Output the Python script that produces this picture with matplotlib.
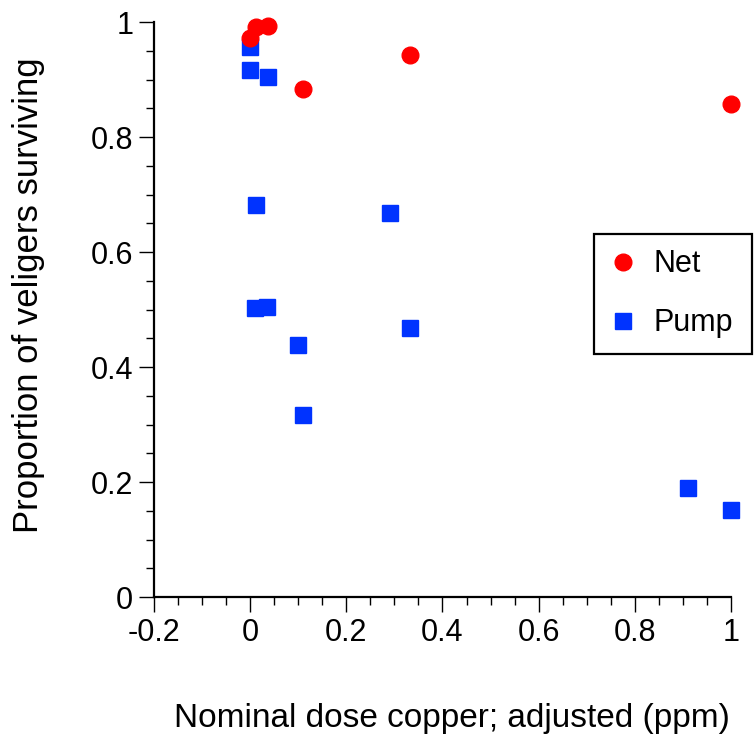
import matplotlib.pyplot as plt
from matplotlib.ticker import MultipleLocator

plt.rcParams['font.family'] = ['Liberation Sans', 'DejaVu Sans']

# Net samples
net_dose = [0.0, 0.012, 0.037, 0.11, 0.333, 1.0]
net_surv = [0.973, 0.992, 0.993, 0.884, 0.943, 0.857]

# Pump samples
pump_dose = [0.0, 0.0, 0.037, 0.0125, 0.291, 0.010, 0.035, 0.333, 0.099, 0.11, 0.91, 1.0]
pump_surv = [0.957, 0.917, 0.904, 0.682, 0.668, 0.502, 0.504, 0.467, 0.438, 0.317, 0.190, 0.151]

x_ticks = [-0.2, 0, 0.2, 0.4, 0.6, 0.8, 1]
x_tick_labels = ["-0.2", "0", "0.2", "0.4", "0.6", "0.8", "1"]
y_ticks = [0, 0.2, 0.4, 0.6, 0.8, 1]
y_tick_labels = ["0", "0.2", "0.4", "0.6", "0.8", "1"]

fig = plt.figure(figsize=(7.56, 7.46), dpi=100)
ax = fig.add_axes([0.2037, 0.1997, 0.7632, 0.7708])

pump = ax.plot(pump_dose, pump_surv, linestyle="none", marker="s", markersize=11,
               color="#0033ff", label="Pump", clip_on=False, zorder=3)[0]
net = ax.plot(net_dose, net_surv, linestyle="none", marker="o", markersize=12,
              color="#ff0000", label="Net", clip_on=False, zorder=4)[0]

ax.set_xlim(-0.2, 1)
ax.set_ylim(0, 1)
ax.set_xticks(x_ticks, x_tick_labels)
ax.set_yticks(y_ticks, y_tick_labels)
ax.xaxis.set_minor_locator(MultipleLocator(0.05))
ax.yaxis.set_minor_locator(MultipleLocator(0.05))
ax.tick_params(which="major", length=11, width=1, labelsize=22, pad=4, direction="out")
ax.tick_params(which="minor", length=5.5, width=1, direction="out")

for side in ["top", "right"]:
    ax.spines[side].set_visible(False)
for side in ["left", "bottom"]:
    ax.spines[side].set_linewidth(1.6)

ax.set_xlabel("Nominal dose copper; adjusted (ppm)", fontsize=24)
ax.set_ylabel("Proportion of veligers surviving", fontsize=25)
ax.xaxis.set_label_coords(0.516, -0.212)
ax.yaxis.set_label_coords(-0.218, 0.525)
ax.xaxis.label.set_va("center")
ax.yaxis.label.set_va("center")

# legend box stretched to the reference width
leg = ax.legend([net, pump], ["Net", "Pump"], loc="upper left", mode="expand",
                bbox_to_anchor=(0.7626, 0.426, 0.274, 0.205), borderaxespad=0, fontsize=22,
                frameon=True, fancybox=False, edgecolor="black", framealpha=1,
                handlelength=0.9, handletextpad=0.55, borderpad=0.5, labelspacing=0.95)
leg.get_frame().set_linewidth(1.6)

fig.savefig("out.png", dpi=100)
